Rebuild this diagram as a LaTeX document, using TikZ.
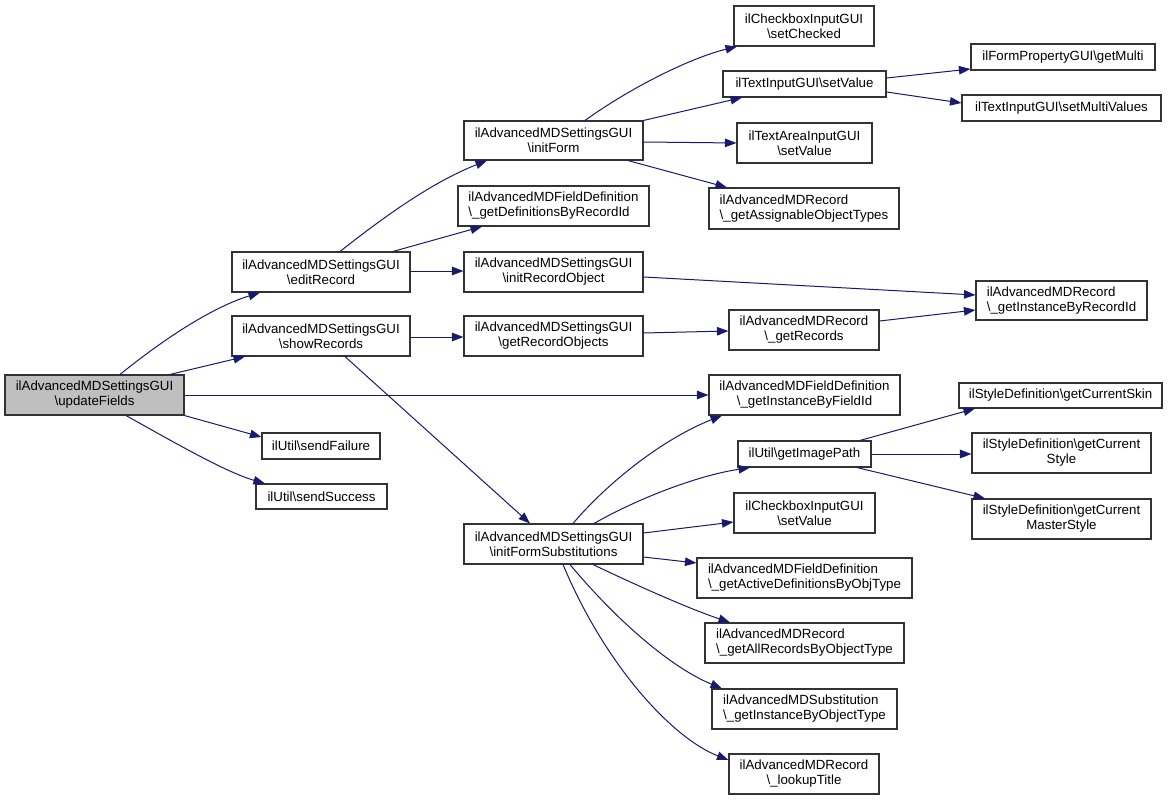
\documentclass[tikz,border=0pt]{standalone}
\usepackage{fontspec}
\setmainfont{Liberation Sans}
\usetikzlibrary{arrows.meta}
\definecolor{edgeblue}{RGB}{25,25,112}
\definecolor{rootgray}{RGB}{191,191,191}
\newcommand{\mybox}[7][]{\node[box,#1,minimum width={(#5-#4)*1pt},minimum height={(#7-#6)*1pt}] (#2) at ({(#4+#5)/2},{(#6+#7)/2}) {#3};}
\newcommand{\bs}{\textbackslash}
\begin{document}
\begin{tikzpicture}[x=1pt,y=-1pt,
  box/.style={draw=black!80,line width=1.1pt,fill=white,inner sep=0pt,align=center,
    font=\fontsize{13.3}{15}\selectfont},
  leftbox/.style={align=left},
  root/.style={fill=rootgray},
  edge/.style={draw=edgeblue,line width=1pt,-{Triangle[length=11.5pt,width=8.5pt]}}]
\useasboundingbox[fill=white] (0,0) rectangle (1169,800);
% nodes
\mybox[root]{uf}{ilAdvancedMDSettingsGUI\\\bs updateFields}{5}{184}{375}{415}
\mybox{er}{ilAdvancedMDSettingsGUI\\\bs editRecord}{232}{410}{252}{292}
\mybox{sr}{ilAdvancedMDSettingsGUI\\\bs showRecords}{232}{410}{316}{356}
\mybox{iro}{ilAdvancedMDSettingsGUI\\\bs initRecordObject}{464}{643}{252}{292}
\mybox{gro}{ilAdvancedMDSettingsGUI\\\bs getRecordObjects}{464}{643}{316}{356}
\mybox{sf}{ilUtil\bs sendFailure}{262}{380}{433}{459}
\mybox{ss}{ilUtil\bs sendSuccess}{256}{387}{484}{509}
\mybox{if}{ilAdvancedMDSettingsGUI\\\bs initForm}{464}{643}{121}{160}
\mybox[leftbox]{gd}{ilAdvancedMDFieldDefinition\\\bs\_getDefinitionsByRecordId}{458}{649}{186}{226}
\mybox{sc}{ilCheckboxInputGUI\\\bs setChecked}{734}{874}{6}{46}
\mybox{tsv}{ilTextInputGUI\bs setValue}{723}{886}{71}{97}
\mybox{ta}{ilTextAreaInputGUI\\\bs setValue}{737}{872}{123}{163}
\mybox[leftbox]{gao}{ilAdvancedMDRecord\\\bs\_getAssignableObjectTypes}{709}{899}{188}{229}
\mybox{gm}{ilFormPropertyGUI\bs getMulti}{971}{1155}{44}{70}
\mybox{smv}{ilTextInputGUI\bs setMultiValues}{962}{1161}{95}{121}
\mybox[leftbox]{gir}{ilAdvancedMDRecord\\\bs\_getInstanceByRecordId}{976}{1147}{281}{320}
\mybox{grec}{ilAdvancedMDRecord\\\bs\_getRecords}{729}{879}{310}{350}
\mybox{fid}{ilAdvancedMDFieldDefinition\\\bs\_getInstanceByFieldId}{709}{900}{375}{415}
\mybox{skin}{ilStyleDefinition\bs getCurrentSkin}{959}{1162}{383}{408}
\mybox{gip}{ilUtil\bs getImagePath}{738}{871}{441}{467}
\mybox{sty}{ilStyleDefinition\bs getCurrent\\Style}{972}{1151}{433}{473}
\mybox{ms}{ilStyleDefinition\bs getCurrent\\MasterStyle}{972}{1151}{499}{539}
\mybox{csv}{ilCheckboxInputGUI\\\bs setValue}{734}{875}{493}{533}
\mybox{ifs}{ilAdvancedMDSettingsGUI\\\bs initFormSubstitutions}{464}{643}{524}{564}
\mybox[leftbox]{gad}{ilAdvancedMDFieldDefinition\\\bs\_getActiveDefinitionsByObjType}{697}{912}{558}{598}
\mybox[leftbox]{gar}{ilAdvancedMDRecord\\\bs\_getAllRecordsByObjectType}{705}{904}{623}{663}
\mybox[leftbox]{gsub}{ilAdvancedMDSubstitution\\\bs\_getInstanceByObjectType}{712}{897}{689}{729}
\mybox{lt}{ilAdvancedMDRecord\\\bs\_lookupTitle}{729}{879}{754}{794}
% edges
\draw[edge] (uf.north -| 120,0) .. controls (160,342) and (210,308) .. (er.south -| 260,0);
\draw[edge] (uf.north -| 170,0) -- (sr.south -| 245,0);
\draw[edge] (uf.east |- 0,395) -- (fid.west |- 0,395);
\draw[edge] (uf.south east) -- (sf.west |- 0,437);
\draw[edge] (uf.south -| 126,0) .. controls (170,440) and (225,472) .. (ss.north -| 265,0);
\draw[edge] (er.north -| 340,0) .. controls (380,220) and (430,183) .. (if.south -| 487,0);
\draw[edge] (er.north -| 393,0) -- (gd.south -| 482,0);
\draw[edge] (er.east |- 0,271) -- (iro.west |- 0,271);
\draw[edge] (sr.east |- 0,337) -- (gro.west |- 0,337);
\draw[edge] (sr.south -| 345,0) -- (ifs.north -| 530,0);
\draw[edge] (iro.east |- 0,277) -- (gir.west |- 0,295);
\draw[edge] (gro.east |- 0,333) -- (grec.west |- 0,331);
\draw[edge] (grec.east |- 0,321) -- (gir.west |- 0,310);
\draw[edge] (if.north -| 585,0) .. controls (630,88) and (690,58) .. (sc.south -| 737,0);
\draw[edge] (if.north east) -- (tsv.south -| 742,0);
\draw[edge] (if.east |- 0,142) -- (ta.west |- 0,143);
\draw[edge] (if.south -| 628,0) -- (gao.north -| 727,0);
\draw[edge] (tsv.east |- 0,78) -- (gm.west |- 0,69);
\draw[edge] (tsv.east |- 0,92) -- (smv.west |- 0,103);
\draw[edge] (ifs.north -| 573,0) .. controls (610,480) and (665,438) .. (fid.south -| 722,0);
\draw[edge] (ifs.north -| 594,0) .. controls (635,500) and (695,476) .. (gip.south -| 750,0);
\draw[edge] (ifs.east |- 0,533) -- (csv.west |- 0,522);
\draw[edge] (ifs.east |- 0,557) -- (gad.west |- 0,563);
\draw[edge] (ifs.south -| 593,0) .. controls (640,587) and (690,609) .. (gar.north -| 730,0);
\draw[edge] (ifs.south -| 570,0) .. controls (618,622) and (672,668) .. (gsub.north -| 722,0);
\draw[edge] (ifs.south -| 563,0) .. controls (605,665) and (672,738) .. (lt.west |- 0,760);
\draw[edge] (gip.north -| 860,0) -- (skin.south -| 975,0);
\draw[edge] (gip.east |- 0,454) -- (sty.west |- 0,454);
\draw[edge] (gip.south -| 857,0) -- (ms.north -| 985,0);
\end{tikzpicture}
\end{document}
